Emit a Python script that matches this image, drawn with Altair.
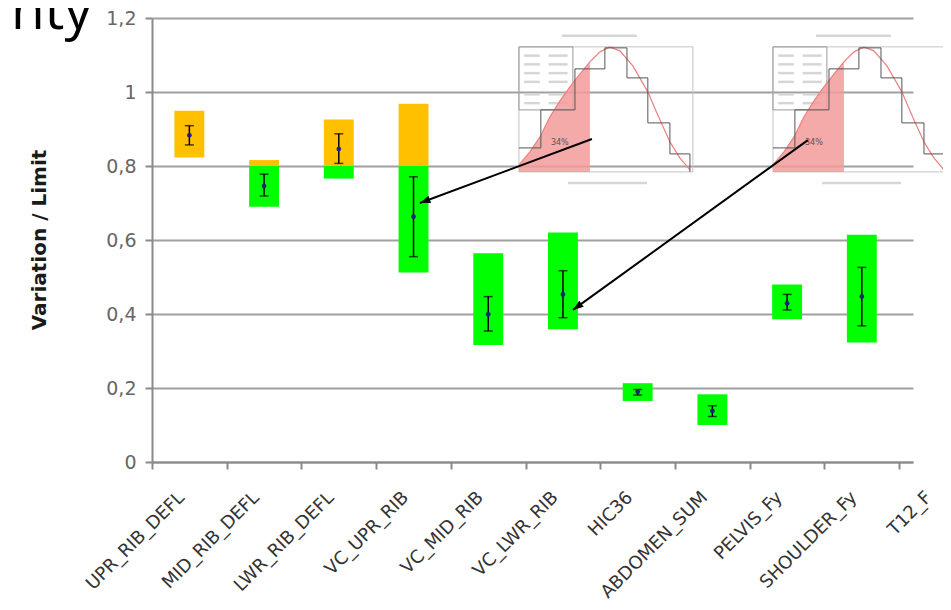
import math
import altair as alt
import pandas as pd

# ---------------- data ----------------
categories = ["UPR_RIB_DEFL", "MID_RIB_DEFL", "LWR_RIB_DEFL", "VC_UPR_RIB", "VC_MID_RIB",
              "VC_LWR_RIB", "HIC36", "ABDOMEN_SUM", "PELVIS_Fy", "SHOULDER_Fy", "T12_F"]
range_low = [0.823, 0.690, 0.766, 0.512, 0.316, 0.359, 0.165, 0.100, 0.386, 0.323]
range_high = [0.949, 0.816, 0.926, 0.968, 0.564, 0.620, 0.213, 0.183, 0.480, 0.614]
whisker_low = [0.857, 0.719, 0.807, 0.555, 0.354, 0.390, 0.181, 0.123, 0.411, 0.368]
whisker_high = [0.909, 0.778, 0.887, 0.771, 0.447, 0.517, 0.196, 0.152, 0.453, 0.526]
mean_values = [0.883, 0.746, 0.846, 0.663, 0.399, 0.453, 0.190, 0.138, 0.429, 0.447]
limit_split = 0.8
y_ticks = [0, 0.2, 0.4, 0.6, 0.8, 1.0, 1.2]

# inset (distribution picture) read as fractions of its frame
curve_fx = [0, .063, .121, .178, .236, .293, .351, .408, .466, .523, .580, .655, .741, .793, .868, .925, .983]
curve_fy = [.056, .16, .28, .44, .568, .68, .784, .88, .96, 1.0, .968, .848, .64, .472, .24, .112, .016]
fill_count = 8  # first points (up to the 34 % cut) are shaded
step_fx = [0, .126, .126, .322, .322, .494, .494, .621, .621, .741, .741, .868, .868, .983, .983]
step_fy = [.192, .192, .496, .496, .824, .824, .992, .992, .752, .752, .392, .392, .144, .144, 0]
inset_frames = [(4.911, 7.239), (8.311, 10.639)]   # x extent in category units
inset_y = (0.784, 1.122)
inset_label = "34%"

# arrows: (start x, start y) -> (tip x, tip y) in chart units
arrow_start_x = [5.888, 8.778]
arrow_start_y = [0.873, 0.870]
arrow_tip_x = [3.586, 5.634]
arrow_tip_y = [0.700, 0.411]

# ---------------- layout ----------------
W, H = 761, 444
XMAX = 10.185
YMAX = 1.2
GREEN = "#00ff00"
ORANGE = "#ffc000"

xscale = alt.Scale(domain=[0, XMAX], nice=False, zero=False)
yscale = alt.Scale(domain=[0, YMAX], nice=False, zero=True)
xaxis = alt.Axis(values=list(range(11)), labels=False, tickSize=7, tickWidth=2,
                 tickColor="#8a8a8a", domainColor="#8a8a8a", domainWidth=2, grid=False, title=None)
yaxis = alt.Axis(values=y_ticks, labelExpr="replace(format(datum.value, '~g'), '.', ',')",
                 tickSize=7, tickWidth=2, tickColor="#8a8a8a", labelPadding=9, labelFontSize=19,
                 labelFont="DejaVu Sans", labelColor="#666666", domainColor="#8a8a8a",
                 domainWidth=2, grid=True, gridColor="#a0a0a0", gridWidth=2, title=None)


def X(f):
    return alt.X(f, type="quantitative", scale=xscale, axis=xaxis)


def Y(f):
    return alt.Y(f, type="quantitative", scale=yscale, axis=yaxis, stack=None)


# bar segments (green below the limit, orange above it)
segs = []
for i, (lo, hi) in enumerate(zip(range_low, range_high)):
    if lo < limit_split:
        segs.append({"x0": i + 0.3, "x1": i + 0.7, "lo": lo, "hi": min(hi, limit_split), "col": GREEN})
    if hi > limit_split:
        segs.append({"x0": i + 0.3, "x1": i + 0.7, "lo": max(lo, limit_split), "hi": hi, "col": ORANGE})
seg_df = pd.DataFrame(segs)

err_df = pd.DataFrame({"xc": [i + 0.5 for i in range(len(mean_values))],
                       "wl": whisker_low, "wh": whisker_high, "m": mean_values})
lab_df = pd.DataFrame({"xc": [i + 0.40 for i in range(len(categories))], "cat": categories})

# inset tables
x0y, x1y = inset_y
curve_rows, area_rows, step_rows, frame_rows, legend_rows, text_rows, blur_rows = [], [], [], [], [], [], []
for k, (ax0, ax1) in enumerate(inset_frames):
    def fx(v):
        return ax0 + v * (ax1 - ax0)

    def fy(v):
        return x0y + v * (x1y - x0y)
    for j, (a, b) in enumerate(zip(curve_fx, curve_fy)):
        curve_rows.append({"inset": k, "o": j, "x": fx(a), "y": fy(b)})
        if j < fill_count:
            area_rows.append({"inset": k, "o": j, "x": fx(a), "y": fy(b), "y0": x0y})
    for j, (a, b) in enumerate(zip(step_fx, step_fy)):
        step_rows.append({"inset": k, "o": j, "x": fx(a), "y": fy(b)})
    frame_rows.append({"x": fx(0), "x2": fx(1), "y": fy(0), "y2": fy(1)})
    legend_rows.append({"x": fx(0), "x2": fx(0.31), "y": fy(0.496), "y2": fy(1)})
    text_rows.append({"x": fx(0.235), "y": fy(0.232), "t": inset_label})
    # blurred unreadable captions drawn as soft grey strokes
    blur_rows.append({"x": fx(0.247), "x2": fx(0.678), "y": fy(1.088)})
    blur_rows.append({"x": fx(0.282), "x2": fx(0.736), "y": fy(-0.088)})
    for r in [0.93, 0.86, 0.79, 0.72, 0.62, 0.55]:
        blur_rows.append({"x": fx(0.03), "x2": fx(0.12), "y": fy(r)})
        blur_rows.append({"x": fx(0.17), "x2": fx(0.28), "y": fy(r)})

curve_df = pd.DataFrame(curve_rows)
area_df = pd.DataFrame(area_rows)
step_df = pd.DataFrame(step_rows)
frame_df = pd.DataFrame(frame_rows)
legend_df = pd.DataFrame(legend_rows)
itext_df = pd.DataFrame(text_rows)
blur_df = pd.DataFrame(blur_rows)

# arrows
pxx, pxy = W / XMAX, H / YMAX
arrow_rows = []
for sx, sy, tx, ty in zip(arrow_start_x, arrow_start_y, arrow_tip_x, arrow_tip_y):
    dxp = (tx - sx) * pxx
    dyp = -(ty - sy) * pxy
    ang = math.degrees(math.atan2(dxp, -dyp)) % 360
    arrow_rows.append({"sx": sx, "sy": sy, "tx": tx, "ty": ty, "ang": ang})
arrow_df = pd.DataFrame(arrow_rows)

# ---------------- layers ----------------
blur = alt.Chart(blur_df).mark_rule(color="#d6d6d6", strokeWidth=2.5).encode(x=X("x"), x2="x2", y=Y("y"))
frame = alt.Chart(frame_df).mark_rect(fillOpacity=0, stroke="#c4c4c4", strokeWidth=1).encode(
    x=X("x"), x2="x2", y=Y("y"), y2="y2")
legend_box = alt.Chart(legend_df).mark_rect(fillOpacity=0, stroke="#9a9a9a", strokeWidth=1).encode(
    x=X("x"), x2="x2", y=Y("y"), y2="y2")
areas = [
    alt.Chart(area_df[area_df["inset"] == k]).mark_area(color="#f39b9b", opacity=0.85).encode(
        x=X("x"), y=Y("y"), y2="y0")
    for k in range(len(inset_frames))
]
curve = alt.Chart(curve_df).mark_line(color="#ef8080", strokeWidth=1.2).encode(
    x=X("x"), y=Y("y"), detail="inset:N", order="o:Q")
steps = alt.Chart(step_df).mark_line(color="#555555", strokeWidth=1).encode(
    x=X("x"), y=Y("y"), detail="inset:N", order="o:Q")
itext = alt.Chart(itext_df).mark_text(fontSize=8, font="DejaVu Sans", color="#555555").encode(
    x=X("x"), y=Y("y"), text="t:N")

bars = alt.Chart(seg_df).mark_rect().encode(
    x=X("x0"), x2="x1", y=Y("lo"), y2="hi", color=alt.Color("col:N", scale=None))
whisk = alt.Chart(err_df).mark_rule(color="black", strokeWidth=1.5).encode(x=X("xc"), y=Y("wl"), y2="wh")
cap_lo = alt.Chart(err_df).mark_tick(orient="horizontal", size=9, thickness=1.5, color="black").encode(
    x=X("xc"), y=Y("wl"))
cap_hi = alt.Chart(err_df).mark_tick(orient="horizontal", size=9, thickness=1.5, color="black").encode(
    x=X("xc"), y=Y("wh"))
means = alt.Chart(err_df).mark_point(filled=True, shape="circle", size=22, color="#16237a", opacity=1).encode(
    x=X("xc"), y=Y("m"))

arrow_line = alt.Chart(arrow_df).mark_rule(color="black", strokeWidth=2).encode(
    x=X("sx"), y=Y("sy"), x2="tx", y2="ty")
arrow_head = alt.Chart(arrow_df).mark_point(
    shape="M0,0L-0.36,1L0.36,1Z", filled=True, color="black", size=440, opacity=1).encode(
    x=X("tx"), y=Y("ty"), angle=alt.Angle("ang:Q", scale=None))

xlabels = alt.Chart(lab_df).mark_text(angle=315, align="right", baseline="middle", fontSize=18,
                                      font="DejaVu Sans", color="#333333").encode(
    x=X("xc"), y=alt.value(H + 33), text="cat:N")

ytitle = alt.Chart(pd.DataFrame({"t": ["Variation / Limit"]})).mark_text(
    angle=270, align="center", baseline="middle", fontSize=20, fontWeight="bold",
    font="DejaVu Sans", color="#1a1a1a").encode(x=alt.value(-112), y=alt.value(222), text="t:N")

big_title = alt.Chart(pd.DataFrame({"t": ["Uncertainty"]})).mark_text(
    align="right", baseline="alphabetic", fontSize=55, font="Open Sans", color="#000000").encode(
    x=alt.value(-60), y=alt.value(11), text="t:N")

chart = alt.layer(
    blur, frame, legend_box, *areas, curve, steps, itext,
    bars, whisk, cap_lo, cap_hi, means,
    arrow_line, arrow_head, xlabels, ytitle, big_title
).properties(
    width=W, height=H,
    autosize=alt.AutoSizeParams(type="none"),
    padding={"left": 144, "top": 10, "right": 30, "bottom": 140},
).configure_view(stroke=None)

chart.save("out.html", embed_options={"renderer": "svg", "actions": False})
